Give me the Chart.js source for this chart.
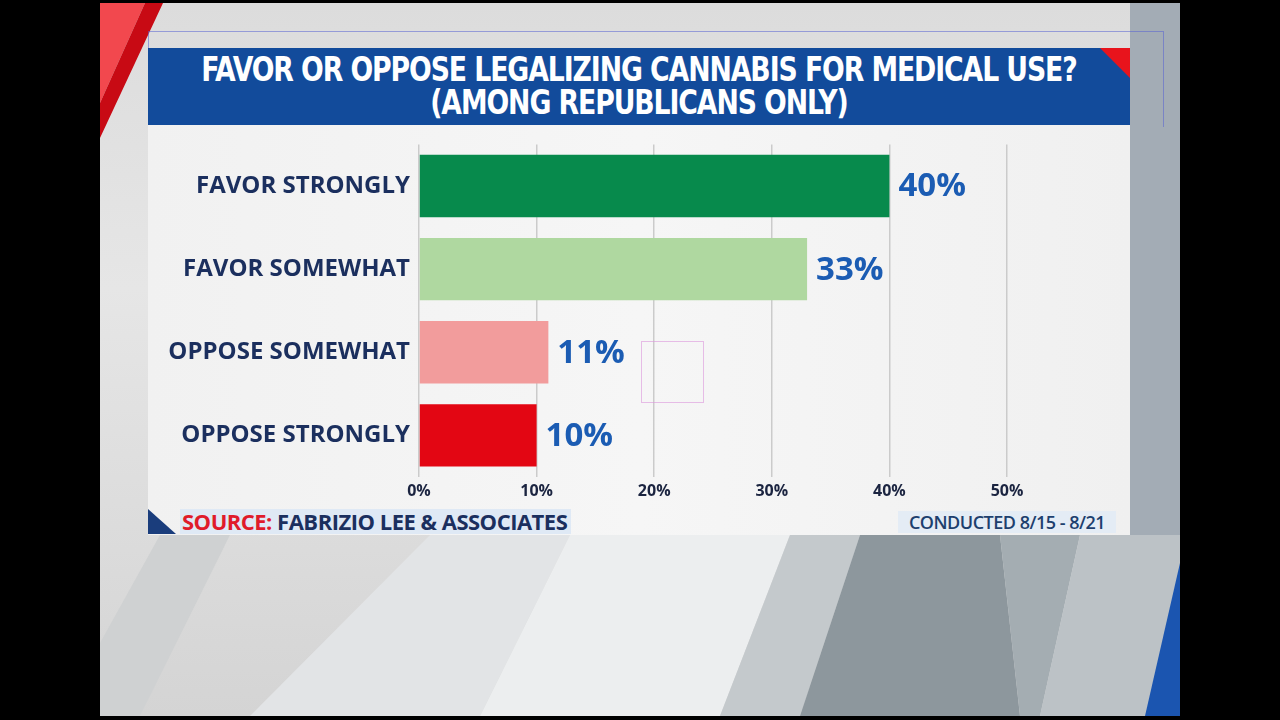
<!DOCTYPE html>
<html lang="en">
<head>
<meta charset="UTF-8">
<title>Cannabis for medical use - Republicans</title>
<script src="https://cdn.jsdelivr.net/npm/chart.js"></script>
<style>
  html, body { margin: 0; padding: 0; background: #000; }
  #screen { position: relative; width: 1280px; height: 720px; overflow: hidden; background: #000; }
  #bg {
    position: absolute; left: 100px; top: 3px; width: 1080px; height: 713px;
    background: linear-gradient(180deg, #dcdcdc 0%, #e6e6e6 40%, #d4d4d4 100%);
    overflow: hidden;
  }
  .shape { position: absolute; left: 0; top: 0; width: 1080px; height: 713px; }
  #panel { position: absolute; left: 148px; top: 125px; width: 982px; height: 410px;
    background: linear-gradient(90deg, #f1f1f1 0%, #f6f6f6 50%, #f0f0f0 100%); }
  #titlebox { position: absolute; left: 148px; top: 48px; width: 982px; height: 77px;
    background: #124b9b; overflow: hidden; }
  #titlebox .corner { position: absolute; right: 0; top: 0; width: 30px; height: 30px;
    background: #e8141c; clip-path: polygon(0 0, 100% 0, 100% 100%); }
  #title { position: absolute; left: 0; top: 5px; width: 100%; text-align: center;
    color: #fff; font-family: "DejaVu Sans Condensed", "DejaVu Sans", sans-serif; font-weight: bold;
    font-size: 33px; line-height: 33px; letter-spacing: -1.2px; transform: scaleX(0.9); transform-origin: 50% 50%; }
  #chartbox { position: absolute; left: 148px; top: 129px; width: 982px; height: 376px; }
  #source { position: absolute; left: 148px; top: 509px; height: 25px; }
  #source .tri { position: absolute; left: 0; top: 0; width: 28px; height: 25px; background: #1a3d7c;
    clip-path: polygon(0 0, 100% 100%, 0 100%); }
  #source .txt { position: absolute; left: 32px; top: 0; height: 25px; padding: 0 4px 0 2px; white-space: nowrap;
    background: #dfe9f5; font-family: "Open Sans", sans-serif; font-weight: bold; font-size: 22px;
    line-height: 25px; letter-spacing: -0.5px; color: #1b2f5e; }
  #source .red { color: #e01b2b; }
  #conducted { position: absolute; left: 898px; top: 511px; width: 218px; height: 22px; background: #e4ecf5;
    font-family: "Open Sans", sans-serif; font-weight: 600; font-size: 18px; line-height: 23px;
    letter-spacing: -0.5px; color: #1d3f6e; text-align: center; white-space: nowrap; }
  #handles { position: absolute; left: 148px; top: 31px; width: 1014px; height: 95px;
    border-top: 1px solid rgba(90,100,210,0.55); border-right: 1px solid rgba(90,100,210,0.55);
    border-left: 1px solid rgba(90,100,210,0.55); }
  #pinkbox { position: absolute; left: 641px; top: 341px; width: 61px; height: 60px;
    border: 1px solid rgba(220,150,220,0.6); }
</style>
</head>
<body>
<div id="screen">
  <div id="bg">
    <!-- diagonal studio background -->
    <svg class="shape" viewBox="0 0 1080 713">
      <polygon points="0,0 45,0 0,100" fill="#f2484e"/>
      <polygon points="45,0 63,0 0,135 0,100" fill="#c80a14"/>
      <polygon points="1030,0 1080,0 1080,713 1030,713" fill="#a3acb5"/>
      <polygon points="330,532 470,532 380,713 150,713" fill="#e2e4e6"/>
      <polygon points="470,532 690,532 620,713 380,713" fill="#eceeef"/>
      <polygon points="690,532 760,532 700,713 620,713" fill="#c4c9cc"/>
      <polygon points="760,532 900,532 920,713 700,713" fill="#8d979d"/>
      <polygon points="900,532 980,532 940,713 920,713" fill="#a4adb2"/>
      <polygon points="980,532 1080,532 1080,713 940,713" fill="#bcc2c6"/>
      <polygon points="60,532 130,532 40,713 0,713 0,640" fill="#cfd1d2"/>
      <polygon points="1080,560 1080,713 1045,713" fill="#1b55b0"/>
    </svg>
  </div>
  <div id="handles"></div>
  <div id="panel"></div>
  <div id="titlebox">
    <div class="corner"></div>
    <div id="title">FAVOR OR OPPOSE LEGALIZING CANNABIS FOR MEDICAL USE?<br>(AMONG REPUBLICANS ONLY)</div>
  </div>
  <div id="chartbox"><canvas id="pollChart"></canvas></div>
  <div id="pinkbox"></div>
  <div id="source"><div class="tri"></div><div class="txt"><span class="red">SOURCE:</span> FABRIZIO LEE &amp; ASSOCIATES</div></div>
  <div id="conducted">CONDUCTED 8/15 - 8/21</div>
</div>

<script>
  const categories = ['FAVOR STRONGLY', 'FAVOR SOMEWHAT', 'OPPOSE SOMEWHAT', 'OPPOSE STRONGLY'];
  const shares = [40, 33, 11, 10];
  const barColors = ['#078a4c', '#afd8a0', '#f29c9c', '#e30613'];
  const xTicks = [0, 10, 20, 30, 40, 50];

  // labels at the end of each bar
  const valueLabels = {
    id: 'valueLabels',
    afterDatasetsDraw(chart) {
      const ctx = chart.ctx;
      const meta = chart.getDatasetMeta(0);
      ctx.save();
      ctx.font = 'bold 33px "Open Sans", sans-serif';
      ctx.fillStyle = '#1b5cb3';
      ctx.textAlign = 'left';
      ctx.textBaseline = 'middle';
      meta.data.forEach((bar, i) => {
        ctx.fillText(shares[i] + '%', bar.x + 9, bar.y + 1);
      });
      ctx.restore();
    }
  };

  const ctx = document.getElementById('pollChart').getContext('2d');
  new Chart(ctx, {
    type: 'bar',
    data: {
      labels: categories,
      datasets: [{
        data: shares,
        backgroundColor: barColors,
        borderWidth: 0,
        barPercentage: 0.75,
        categoryPercentage: 1.0
      }]
    },
    options: {
      indexAxis: 'y',
      responsive: true,
      maintainAspectRatio: false,
      animation: false,
      layout: { padding: { top: 0, right: 123, left: 0, bottom: 0 } },
      plugins: {
        legend: { display: false },
        tooltip: { enabled: false }
      },
      scales: {
        x: {
          min: 0,
          max: 50,
          afterBuildTicks(scale) {
            scale.ticks = xTicks.map(v => ({ value: v }));
          },
          afterFit(scale) { scale.height = 28; },
          border: { display: false },
          grid: { color: '#cbcbcb', lineWidth: 1.5, drawTicks: false },
          ticks: {
            padding: 5,
            color: '#1b2440',
            font: { family: 'Open Sans', weight: 'bold', size: 16 },
            callback: v => v + '%'
          }
        },
        y: {
          afterFit(scale) { scale.width = 271; },
          border: { display: false },
          grid: { display: false },
          ticks: {
            padding: 1,
            color: '#1b2f5e',
            font: { family: 'Open Sans', weight: 'bold', size: 24 }
          }
        }
      }
    },
    plugins: [valueLabels]
  });
</script>
</body>
</html>
